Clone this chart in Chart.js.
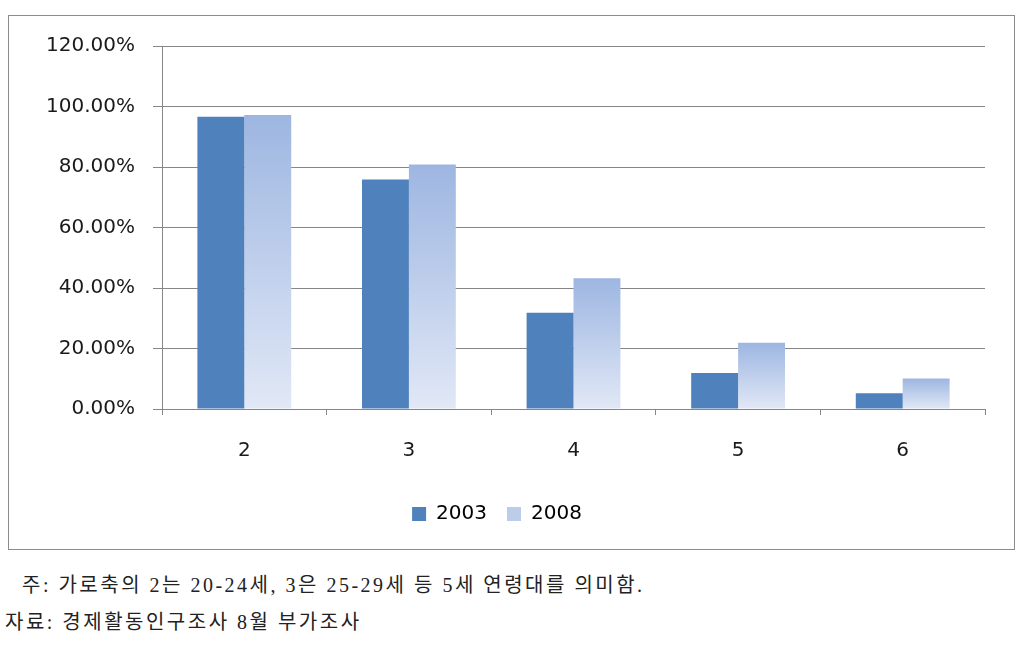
<!DOCTYPE html>
<html>
<head>
<meta charset="utf-8">
<script src="https://cdn.jsdelivr.net/npm/chart.js@4.4.1/dist/chart.umd.min.js"></script>
<style>
  html, body { margin: 0; padding: 0; background: #fff; }
  body { width: 1030px; height: 658px; position: relative; overflow: hidden; }
  #box { position: absolute; left: 8px; top: 15px; width: 1005px; height: 533px; border: 1px solid #8c8c8c; }
  #box canvas { display: block; }
  .note { position: absolute; font-family: "Liberation Serif", "Noto Sans CJK KR", serif; font-size: 20px; letter-spacing: 2.5px; color: #222; white-space: nowrap; }
</style>
</head>
<body>
<div id="box"><canvas id="chart" width="1005" height="533"></canvas></div>
<div class="note" style="left:22px; top:569px;">주: 가로축의 2는 20-24세, 3은 25-29세 등 5세 연령대를 의미함.</div>
<div class="note" style="left:5px; top:606px;">자료: 경제활동인구조사 8월 부가조사</div>
<script>
// age-band index on the x axis, share in percent
const categories = ['2', '3', '4', '5', '6'];
const series2003 = [96.6, 75.9, 31.8, 11.9, 5.2];
const series2008 = [97.2, 80.8, 43.2, 21.9, 10.1];
const seriesNames = ['2003', '2008'];
const yTicks = { min: 0, max: 120, step: 20 };

const GRID = '#868686';
const TEXT = '#1a1a1a';
const FONT = '"DejaVu Sans", Verdana, sans-serif';

// per-bar vertical gradient for the 2008 series (darker at the top)
function gradient2008(ctx) {
  const chart = ctx.chart;
  const area = chart.chartArea;
  if (!area || ctx.type !== 'data') return '#b9cbeb';
  const y = chart.scales.y;
  const top = y.getPixelForValue(ctx.raw);
  const bottom = y.getPixelForValue(0);
  const g = chart.ctx.createLinearGradient(0, top, 0, bottom);
  g.addColorStop(0, '#9db6e1');
  g.addColorStop(1, '#e1e8f6');
  return g;
}

new Chart(document.getElementById('chart'), {
  type: 'bar',
  data: {
    labels: categories,
    datasets: [
      { label: seriesNames[0], data: series2003, backgroundColor: '#4f81bd', borderWidth: 0 },
      { label: seriesNames[1], data: series2008, backgroundColor: gradient2008, borderWidth: 0 }
    ]
  },
  options: {
    responsive: false, animation: false,
    layout: { padding: { top: 18, right: 29, bottom: 15, left: 0 } },
    datasets: { bar: { categoryPercentage: 0.57, barPercentage: 1 } },
    plugins: {
      tooltip: { enabled: false },
      legend: {
        position: 'bottom',
        labels: {
          color: TEXT, font: { family: FONT, size: 20 }, boxWidth: 14, boxHeight: 14, padding: 20,
          generateLabels: () => [
            { text: seriesNames[0], fillStyle: '#4f81bd', strokeStyle: '#4f81bd', lineWidth: 0, datasetIndex: 0 },
            { text: seriesNames[1], fillStyle: '#bccdec', strokeStyle: '#bccdec', lineWidth: 0, datasetIndex: 1 }
          ]
        }
      }
    },
    scales: {
      x: {
        offset: true,
        grid: { offset: true, drawOnChartArea: false, color: GRID, tickLength: 6 },
        border: { color: GRID, width: 1 },
        ticks: { color: TEXT, font: { family: FONT, size: 20 }, padding: 24 },
        afterFit: s => { s.height = 75; }
      },
      y: {
        min: yTicks.min, max: yTicks.max,
        grid: { color: GRID, tickLength: 9 },
        border: { color: GRID, width: 1 },
        ticks: { stepSize: yTicks.step, color: TEXT, font: { family: FONT, size: 20 }, padding: 18,
                 callback: v => v.toFixed(2) + '%' },
        afterFit: s => { s.width = 153; }
      }
    }
  }
});
</script>
</body>
</html>
